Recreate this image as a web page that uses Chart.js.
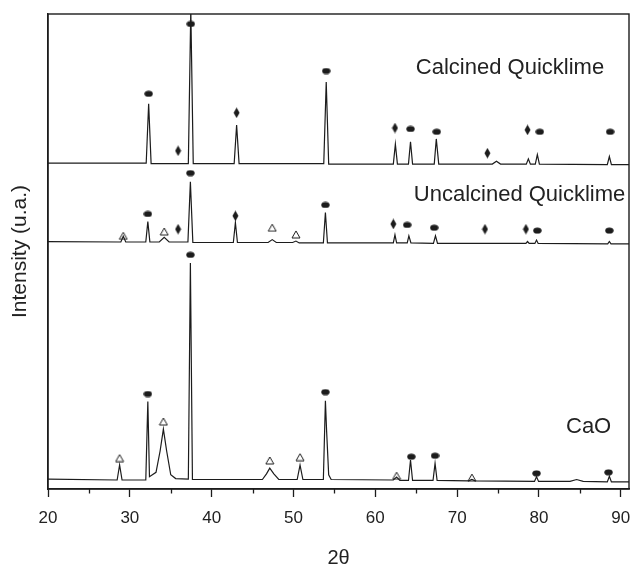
<!DOCTYPE html>
<html>
<head>
<meta charset="utf-8">
<script src="https://cdn.jsdelivr.net/npm/chart.js@4"></script>
<style>
  html, body { margin: 0; padding: 0; background: #ffffff; }
  #wrap { width: 634px; height: 566px; position: relative; }
</style>
</head>
<body>
<div id="wrap"><canvas id="c" width="634" height="566"></canvas></div>
<script>
// ---------------- DATA (2θ, intensity in stacked plot units) ----------------
const xTicks = [20, 30, 40, 50, 60, 70, 80, 90];

const calcinedTrace = [
  [20,68.6],[32.0,68.6],[32.3,81.1],[32.6,68.5],[37.15,68.5],[37.45,101],[37.75,68.5],
  [42.75,68.5],[43.05,76.6],[43.35,68.5],[53.7,68.5],[54.0,85.7],[54.3,68.4],
  [62.2,68.4],[62.45,72.6],[62.7,68.4],[64.05,68.4],[64.3,73.1],[64.55,68.4],
  [67.2,68.4],[67.45,73.7],[67.75,68.4],[74.3,68.4],[74.8,69.0],[75.3,68.4],
  [78.45,68.4],[78.7,69.5],[78.95,68.4],[79.55,68.4],[79.8,70.4],[80.05,68.4],
  [88.35,68.3],[88.6,70.0],[88.85,68.3],[91,68.3]
];
const uncalcinedTrace = [
  [20,52.1],[28.9,52.0],[29.2,53.2],[29.5,52.0],[31.95,52.0],[32.2,56.3],[32.45,52.0],
  [33.6,52.0],[34.2,53.0],[34.8,52.0],[37.1,52.0],[37.4,64.7],[37.7,51.9],
  [42.65,51.9],[42.9,56.1],[43.15,51.9],[46.9,51.9],[47.4,52.5],[47.9,51.9],
  [49.9,51.9],[50.3,52.2],[50.7,51.8],[53.65,51.8],[53.9,58.2],[54.15,51.8],
  [62.2,51.8],[62.4,53.5],[62.6,51.8],[63.9,51.8],[64.1,53.3],[64.35,51.8],
  [67.1,51.7],[67.35,53.3],[67.6,51.7],[78.4,51.7],[78.6,52.1],[78.8,51.7],
  [79.5,51.7],[79.7,52.4],[79.9,51.7],[88.4,51.6],[88.6,52.1],[88.8,51.6],[91,51.6]
];
const caoTrace = [
  [20,2.1],[28.45,1.9],[28.75,5.05],[29.05,1.9],[31.95,1.9],[32.2,18.4],[32.4,2.6],
  [33.2,3.5],[33.7,8.0],[34.1,12.6],[34.5,8.0],[35.0,3.0],[35.6,2.2],
  [37.15,2.1],[37.4,47.6],[37.65,2.0],[46.2,2.0],[46.7,3.2],[47.1,4.4],[47.6,3.2],[48.2,2.0],
  [50.45,2.0],[50.8,5.05],[51.15,2.0],[53.65,2.0],[53.9,18.6],[54.05,12.1],[54.3,3.0],[54.6,2.0],
  [62.2,1.9],[62.6,2.5],[63.0,1.8],[64.05,1.8],[64.3,6.1],[64.55,1.8],
  [67.05,1.8],[67.3,5.4],[67.55,1.8],[71.4,1.7],[71.8,2.0],[72.2,1.7],
  [79.45,1.6],[79.7,2.6],[79.95,1.6],[83.8,1.6],[84.6,2.0],[85.4,1.6],
  [88.35,1.5],[88.6,2.7],[88.85,1.5],[91,1.5]
];

const calcinedCircles    = [[32.3,83.2],[37.45,97.9],[54.0,88.0],[64.3,75.8],[67.5,75.2],[80.1,75.2],[88.7,75.2]];
const calcinedDiamonds   = [[35.9,71.2],[43.05,79.2],[62.4,76.0],[73.7,70.7],[78.6,75.6]];
const uncalcinedCircles  = [[32.2,57.9],[37.4,66.5],[53.9,59.8],[63.9,55.6],[67.2,55.0],[79.8,54.4],[88.6,54.4]];
const uncalcinedDiamonds = [[35.9,54.7],[42.9,57.5],[62.2,55.8],[73.4,54.7],[78.4,54.7]];
const uncalcinedTriangles= [[29.2,53.3],[34.2,54.2],[47.4,55.0],[50.3,53.6]];
const caoCircles         = [[32.2,20.0],[37.4,49.3],[53.9,20.4],[64.4,6.8],[67.3,7.0],[79.7,3.3],[88.5,3.5]];
const caoTriangles       = [[28.75,6.5],[34.1,14.2],[47.1,6.0],[50.8,6.7],[62.6,2.8],[71.8,2.4]];

const seriesNames = ["Calcined Quicklime", "Uncalcined Quicklime", "CaO"];
const xTitle = "2θ";
const yTitle = "Intensity (u.a.)";

// ---------------- rendering ----------------
const FONT = "'Liberation Sans', Arial, Helvetica, sans-serif";
const INK = '#1c1c1c';

function mk(w, h, draw) {
  const c = document.createElement('canvas');
  c.width = w; c.height = h;
  draw(c.getContext('2d'));
  return c;
}
const circleImg = mk(9, 7, g => { g.fillStyle = INK; g.beginPath(); g.ellipse(4.5, 3.5, 4.2, 3.1, 0, 0, Math.PI*2); g.fill(); });
const diamondImg = mk(7, 11, g => { g.fillStyle = INK; g.beginPath(); g.moveTo(3.5,0.3); g.lineTo(6.5,5.5); g.lineTo(3.5,10.7); g.lineTo(0.5,5.5); g.closePath(); g.fill(); });
const triangleImg = mk(10, 9, g => { g.strokeStyle = INK; g.lineWidth = 1; g.beginPath(); g.moveTo(5,1); g.lineTo(9,8); g.lineTo(1,8); g.closePath(); g.stroke(); });

const toXY = arr => arr.map(p => ({x: p[0], y: p[1]}));
const lineDS = arr => ({ data: toXY(arr), showLine: true, borderColor: INK, borderWidth: 1.2, pointRadius: 0, tension: 0, order: 2 });
const markDS = (arr, img) => ({ data: toXY(arr), showLine: false, pointStyle: img, pointRadius: 4, pointHoverRadius: 4, order: 1 });

const labelAnchors = [
  { text: seriesNames[0], x: 64.95, y: 88.6 },
  { text: seriesNames[1], x: 64.7,  y: 61.9 },
  { text: seriesNames[2], x: 83.3,  y: 13.1 }
];

const framePlugin = {
  id: 'frame',
  afterDatasetsDraw(chart) {
    const {ctx, chartArea: a, scales} = chart;
    ctx.save();
    ctx.strokeStyle = INK; ctx.lineWidth = 1.4;
    ctx.strokeRect(a.left, a.top, a.right - a.left, a.bottom - a.top);
    const xs = scales.x;
    ctx.lineWidth = 1.3;
    for (let v = 25; v < 91; v += 10) {
      const px = Math.round(xs.getPixelForValue(v)) + 0.5;
      ctx.beginPath(); ctx.moveTo(px, a.bottom); ctx.lineTo(px, a.bottom + 4.5); ctx.stroke();
    }
    ctx.fillStyle = '#222';
    ctx.font = '22px ' + FONT;
    ctx.textAlign = 'left';
    ctx.textBaseline = 'middle';
    labelAnchors.forEach(l => ctx.fillText(l.text, xs.getPixelForValue(l.x), scales.y.getPixelForValue(l.y)));
    ctx.restore();
  }
};

new Chart(document.getElementById('c'), {
  type: 'scatter',
  data: {
    datasets: [
      lineDS(calcinedTrace), lineDS(uncalcinedTrace), lineDS(caoTrace),
      markDS(calcinedCircles, circleImg), markDS(calcinedDiamonds, diamondImg),
      markDS(uncalcinedCircles, circleImg), markDS(uncalcinedDiamonds, diamondImg), markDS(uncalcinedTriangles, triangleImg),
      markDS(caoCircles, circleImg), markDS(caoTriangles, triangleImg)
    ]
  },
  options: {
    responsive: false,
    animation: false,
    devicePixelRatio: 1,
    layout: { padding: { top: 14, right: 2, left: 0, bottom: 0 } },
    plugins: { legend: { display: false }, tooltip: { enabled: false } },
    scales: {
      x: {
        type: 'linear', min: 20, max: 91,
        afterFit(s) { s.height = 77; s.paddingLeft = 0; s.paddingRight = 0; },
        ticks: {
          stepSize: 10, includeBounds: false, autoSkip: false, maxRotation: 0,
          color: '#222', font: { family: FONT, size: 17 }, padding: 11,
          callback: v => xTicks.includes(v) ? String(v) : ''
        },
        grid: { drawOnChartArea: false, drawTicks: true, tickLength: 8, tickColor: INK, tickWidth: 1.3 },
        border: { display: true, color: INK, width: 1.4 },
        title: { display: true, text: xTitle, color: '#222', font: { family: FONT, size: 20, lineHeight: 1 }, padding: { top: 0, bottom: -2 } }
      },
      y: {
        type: 'linear', min: 0, max: 100,
        afterFit(s) { s.width = 48; s.paddingTop = 0; s.paddingBottom = 0; },
        ticks: { display: false },
        grid: { display: false, drawTicks: false },
        border: { display: true, color: INK, width: 1.4 },
        title: { display: true, text: yTitle, color: '#222', font: { family: FONT, size: 21, lineHeight: 1 }, padding: { top: 10, bottom: 0 } }
      }
    }
  },
  plugins: [framePlugin]
});
</script>
</body>
</html>
